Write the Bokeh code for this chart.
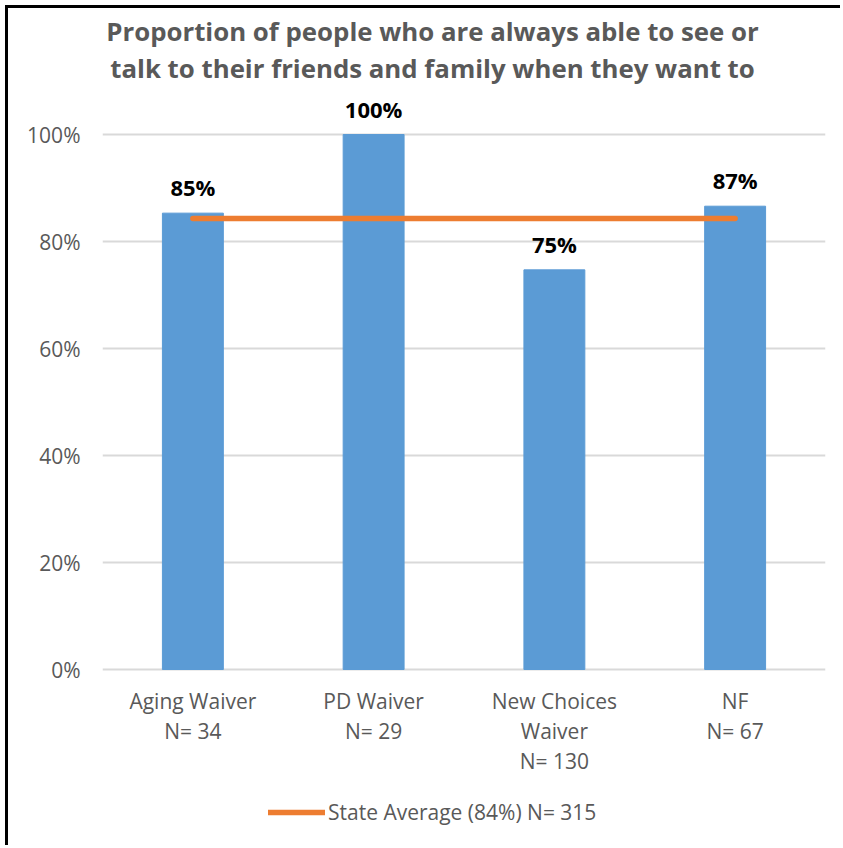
from bokeh.plotting import figure
from bokeh.models import (FactorRange, Range1d, ColumnDataSource, Legend, LegendItem,
                          FixedTicker, InlineStyleSheet, CustomJSTickFormatter)
from bokeh.core.properties import value
from bokeh.embed import file_html
from bokeh.resources import INLINE

categories = ["Aging Waiver", "PD Waiver", "New Choices Waiver", "NF"]
cat_labels = ["Aging Waiver\nN= 34", "PD Waiver\nN= 29", "New Choices\nWaiver\nN= 130", "NF\nN= 67"]
values = [0.853, 1.00, 0.747, 0.866]
value_labels = ["85%", "100%", "75%", "87%"]
state_avg = 0.843
legend_text = "State Average (84%) N= 315"
title_lines = ["Proportion of people who are always able to see or",
               "talk to their friends and family when they want to"]
y_ticks = [0, 0.2, 0.4, 0.6, 0.8, 1.0]

FONT = "Open Sans"
GRAY = "#595959"

# frame spans the whole canvas height; 535 px per 100%
PX = 535.0
Y_TOP, Y_BOTTOM = 661 / PX, -179 / PX

p = figure(width=835, height=840, output_backend="svg", toolbar_location=None,
           x_range=FactorRange(factors=categories, range_padding=0),
           y_range=Range1d(Y_BOTTOM, Y_TOP), x_axis_location=None,
           min_border_left=94, min_border_right=18, min_border_top=0, min_border_bottom=0)
p.stylesheets = [InlineStyleSheet(css=(
    ":host { margin: 8px 0 0 8px; box-shadow: -3px -3px 0 0 black; }"))]
p.outline_line_color = None
p.border_fill_color = "white"
p.title.visible = False

src = ColumnDataSource(dict(x=categories, top=values, lab=value_labels))
p.vbar(x="x", top="top", width=0.337, source=src, color="#5B9BD5")

avg_r = p.line(x=categories, y=[state_avg] * len(categories), line_color="#ED7D31",
               line_width=5.5, line_cap="round")

# value labels above bars
p.text(x="x", y="top", text="lab", source=src, text_align="center",
       text_baseline="middle", y_offset=-26, text_font=value(FONT),
       text_font_style="bold", text_font_size="22px", text_color="#000000")

# category labels (multi-line) under the 0% line
n_lines = [lab.count("\n") + 1 for lab in cat_labels]
cat_src = ColumnDataSource(dict(x=categories, y=[0.0] * len(categories), text=cat_labels,
                                yo=[32 + (n - 1) * 14.75 for n in n_lines]))
p.text(x="x", y="y", text="text", y_offset="yo", source=cat_src, text_align="center",
       text_baseline="middle", text_font=value(FONT), text_font_size="21px",
       text_color=GRAY, text_line_height=1.076)

# title
title_x = [(432 - 102) / 180.75] * 2
title_y = [(669 - 30) / PX, (669 - 67) / PX]
p.text(x=title_x, y=title_y, text=title_lines, text_align="center", text_baseline="middle",
       text_font=value(FONT), text_font_style="bold", text_font_size="25.8px", text_color=GRAY)

# y axis
p.yaxis.ticker = FixedTicker(ticks=y_ticks)
p.yaxis.formatter = CustomJSTickFormatter(code="return Math.round(tick*100) + '%';")
p.yaxis.axis_line_color = None
p.yaxis.major_tick_line_color = None
p.yaxis.minor_tick_line_color = None
p.yaxis.major_label_text_font = FONT
p.yaxis.major_label_text_font_size = "21px"
p.yaxis.major_label_text_color = GRAY
p.yaxis.major_label_standoff = 16

p.xgrid.grid_line_color = None
p.ygrid.grid_line_color = "#D9D9D9"
p.ygrid.grid_line_width = 2

legend = Legend(items=[LegendItem(label=legend_text, renderers=[avg_r])],
                location=(166, 22), orientation="horizontal", glyph_width=57,
                label_standoff=3, padding=0, margin=0, spacing=0,
                border_line_color=None, background_fill_alpha=0,
                label_text_font=FONT, label_text_font_size="21px", label_text_color=GRAY)
p.add_layout(legend)

open("out.html", "w").write(file_html(p, INLINE))
